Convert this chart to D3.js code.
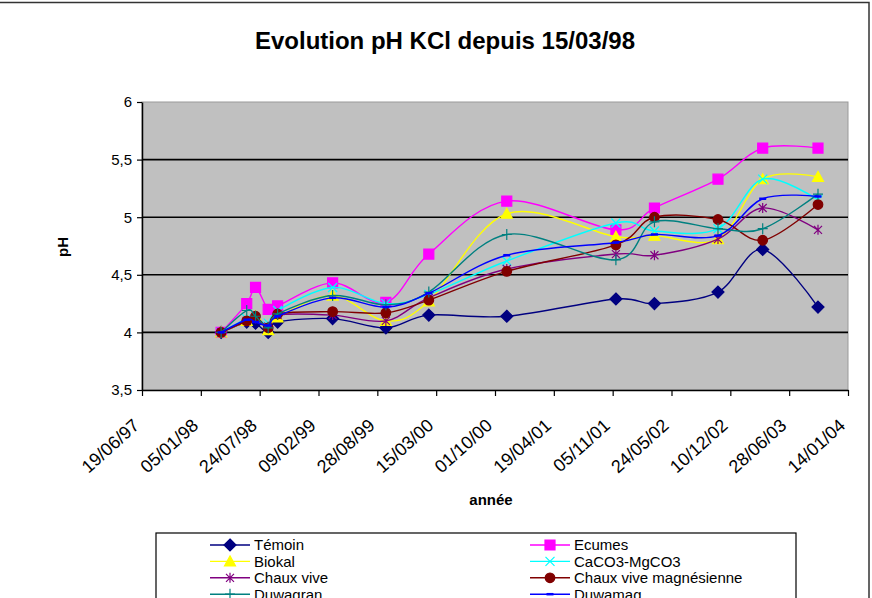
<!DOCTYPE html>
<html>
<head>
<meta charset="utf-8">
<script src="https://cdn.jsdelivr.net/npm/d3@7"></script>
<style>
  body { margin: 0; background: #fff; }
  text { font-family: Arial, "Liberation Sans", sans-serif; }
</style>
</head>
<body>
<svg id="chart" width="872" height="598"></svg>
<script>
// sampling dates (dd/mm/yy)
const sampleDates = ["15/03/98", "10/06/98", "10/07/98", "22/08/98", "23/09/98", "29/03/99",
  "26/09/99", "19/02/00", "10/11/00", "16/11/01", "27/03/02", "29/10/02", "30/03/03", "04/10/03"];

// pH KCl per treatment
const temoin    = [4.00, 4.09, 4.08, 4.00, 4.09, 4.12, 4.04, 4.15, 4.14, 4.29, 4.25, 4.35, 4.72, 4.22];
const ecumes    = [4.00, 4.25, 4.39, 4.20, 4.23, 4.43, 4.26, 4.68, 5.14, 4.89, 5.08, 5.33, 5.60, 5.60];
const biokal    = [4.00, 4.10, 4.14, 4.02, 4.13, 4.32, 4.10, 4.27, 5.03, 4.83, 4.84, 4.81, 5.33, 5.35];
const caco3     = [4.00, 4.12, 4.12, 4.08, 4.19, 4.39, 4.25, 4.33, 4.62, 4.95, 4.88, 4.90, 5.33, 5.15];
const chauxVive = [4.00, 4.10, 4.12, 4.05, 4.15, 4.15, 4.10, 4.30, 4.55, 4.68, 4.67, 4.81, 5.08, 4.89];
const chauxMag  = [4.00, 4.10, 4.14, 4.04, 4.16, 4.18, 4.17, 4.28, 4.53, 4.76, 5.00, 4.98, 4.80, 5.11];
const duwagran  = [4.00, 4.19, 4.14, 4.04, 4.16, 4.32, 4.24, 4.35, 4.85, 4.63, 4.96, 4.90, 4.90, 5.20];
const duwamag   = [4.00, 4.11, 4.09, 4.06, 4.14, 4.30, 4.22, 4.34, 4.67, 4.78, 4.85, 4.84, 5.16, 5.18];

const seriesNames = ["Témoin", "Ecumes", "Biokal", "CaCO3-MgCO3", "Chaux vive",
  "Chaux vive magnésienne", "Duwagran", "Duwamag"];
const seriesColors = ["#000080", "#FF00FF", "#FFFF00", "#00FFFF", "#800080", "#800000", "#008080", "#0000FF"];
const seriesMarkers = ["diamond", "square", "triangle", "cross", "star", "circle", "plus", "dash"];
const seriesValues = [temoin, ecumes, biokal, caco3, chauxVive, chauxMag, duwagran, duwamag];

const xTickLabels = ["19/06/97", "05/01/98", "24/07/98", "09/02/99", "28/08/99", "15/03/00", "01/10/00",
  "19/04/01", "05/11/01", "24/05/02", "10/12/02", "28/06/03", "14/01/04"];
const yTicks = [3.5, 4, 4.5, 5, 5.5, 6];

const parseDate = d3.timeParse("%d/%m/%y");
const fmtDate = d3.timeFormat("%d/%m/%y");

const svg = d3.select("#chart");

const x = d3.scaleTime()
  .domain([parseDate(xTickLabels[0]), parseDate(xTickLabels[xTickLabels.length - 1])])
  .range([142, 848]);
const y = d3.scaleLinear().domain([3.5, 6]).range([390, 102]);

// chart area border
svg.append("rect")
  .attr("x", -2).attr("y", 2.5).attr("width", 871).attr("height", 700)
  .attr("fill", "none").attr("stroke", "#333").attr("stroke-width", 1.5);

// title
svg.append("text")
  .attr("x", 445).attr("y", 49)
  .attr("text-anchor", "middle")
  .attr("font-size", 24).attr("font-weight", "bold")
  .text("Evolution pH KCl depuis 15/03/98");

// plot area
svg.append("rect")
  .attr("x", x.range()[0]).attr("y", y(6))
  .attr("width", x.range()[1] - x.range()[0]).attr("height", y(3.5) - y(6))
  .attr("fill", "#C0C0C0").attr("stroke", "#9a9a9a").attr("stroke-width", 1);

// gridlines
svg.append("g").selectAll("line")
  .data(yTicks.filter(v => v > 3.5 && v < 6))
  .join("line")
  .attr("x1", x.range()[0]).attr("x2", x.range()[1])
  .attr("y1", d => y(d)).attr("y2", d => y(d))
  .attr("stroke", "#000").attr("stroke-width", 1.6);

// y axis
const yAxis = svg.append("g")
  .attr("transform", `translate(${x.range()[0]},0)`)
  .call(d3.axisLeft(y).tickValues(yTicks).tickSize(5).tickSizeOuter(0).tickPadding(5)
    .tickFormat(d => d3.format(".1~f")(d).replace(".", ",")));

// x axis
const xAxis = svg.append("g")
  .attr("transform", `translate(0,${y(3.5)})`)
  .call(d3.axisBottom(x).tickValues(xTickLabels.map(parseDate)).tickSize(6).tickSizeOuter(0)
    .tickFormat(fmtDate));

[xAxis, yAxis].forEach(ax => {
  ax.select(".domain").attr("stroke", "#000").attr("stroke-width", 1.5);
  ax.selectAll(".tick line").attr("stroke", "#000").attr("stroke-width", 1.2);
  ax.selectAll(".tick text").attr("fill", "#000")
    .attr("font-family", "Arial, 'Liberation Sans', sans-serif");
});
yAxis.selectAll(".tick text").attr("font-size", 15);

xAxis.selectAll(".tick text")
  .attr("x", 0).attr("y", 0).attr("dy", 0)
  .attr("font-size", 18)
  .attr("text-anchor", "end")
  .attr("transform", "translate(-2,37) rotate(-42)");

// axis titles
svg.append("text")
  .attr("x", 491).attr("y", 505)
  .attr("text-anchor", "middle")
  .attr("font-size", 15).attr("font-weight", "bold")
  .text("année");

svg.append("text")
  .attr("transform", "translate(68,247) rotate(-90)")
  .attr("text-anchor", "middle")
  .attr("font-size", 15).attr("font-weight", "bold")
  .text("pH");

// marker shapes
function markerPath(type) {
  switch (type) {
    case "diamond": return "M0,-6L6,0L0,6L-6,0Z";
    case "square": return "M-5,-5H5V5H-5Z";
    case "triangle": return "M0,-5.5L5.5,4.5H-5.5Z";
    case "cross": return "M-4.5,-4.5L4.5,4.5M-4.5,4.5L4.5,-4.5";
    case "star": return "M-4,-4L4,4M-4,4L4,-4M0,-5V5";
    case "circle": return d3.arc()({ innerRadius: 0, outerRadius: 4.8, startAngle: 0, endAngle: 2 * Math.PI });
    case "plus": return "M-5,0H5M0,-5.5V5.5";
    case "dash": return "M-3.5,0H3.5";
  }
}
const filled = { diamond: true, square: true, triangle: true, circle: true };

function drawMarker(sel, type, color) {
  sel.append("path")
    .attr("d", markerPath(type))
    .attr("fill", filled[type] ? color : "none")
    .attr("stroke", color)
    .attr("stroke-width", type === "dash" ? 2.5 : 1.2);
}

const line = d3.line()
  .x(d => x(d.date))
  .y(d => y(d.value))
  .curve(d3.curveCardinal.tension(0));

const series = seriesNames.map((name, i) => ({
  name,
  color: seriesColors[i],
  marker: seriesMarkers[i],
  points: sampleDates.map((s, j) => ({ date: parseDate(s), value: seriesValues[i][j] }))
}));

const plot = svg.append("g");
series.forEach(s => {
  plot.append("path")
    .attr("d", line(s.points))
    .attr("fill", "none")
    .attr("stroke", s.color)
    .attr("stroke-width", 1.4);
  s.points.forEach(p => {
    const g = plot.append("g").attr("transform", `translate(${x(p.date)},${y(p.value)})`);
    drawMarker(g, s.marker, s.color);
  });
});

// legend (box runs past the bottom edge, as in the original)
const legend = svg.append("g");
legend.append("rect")
  .attr("x", 156).attr("y", 533).attr("width", 640).attr("height", 100)
  .attr("fill", "#fff").attr("stroke", "#000").attr("stroke-width", 1.2);

series.forEach((s, i) => {
  const g = legend.append("g")
    .attr("transform", `translate(${210 + (i % 2) * 320},${545 + Math.floor(i / 2) * 16.4})`);
  g.append("line").attr("x1", 0).attr("x2", 40).attr("stroke", s.color).attr("stroke-width", 1.4);
  drawMarker(g.append("g").attr("transform", "translate(20,0)"), s.marker, s.color);
  g.append("text")
    .attr("x", 44).attr("dy", "0.36em")
    .attr("font-size", 15)
    .text(s.name);
});
</script>
</body>
</html>
